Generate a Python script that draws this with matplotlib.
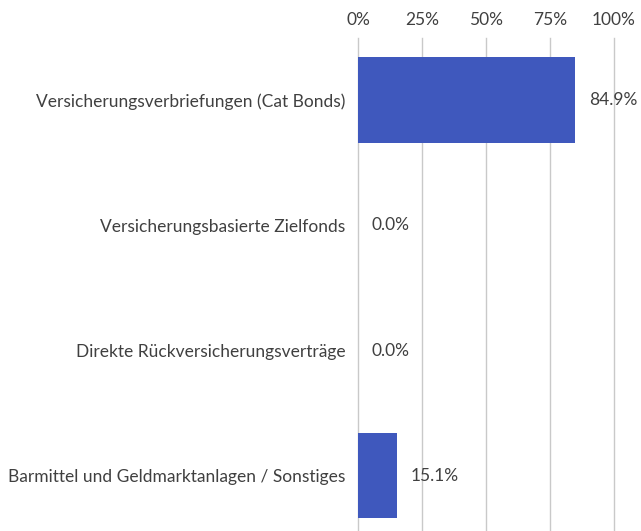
import matplotlib.pyplot as plt
from matplotlib.ticker import FuncFormatter

categories = [
    "Versicherungsverbriefungen (Cat Bonds)",
    "Versicherungsbasierte Zielfonds",
    "Direkte Rückversicherungsverträge",
    "Barmittel und Geldmarktanlagen / Sonstiges",
]
values = [84.9, 0.0, 0.0, 15.1]
xticks = [0, 25, 50, 75, 100]

text_color = "#404040"
bar_color = "#3F58BD"
grid_color = "#C9C9C9"

plt.rcParams['font.family'] = ['Lato', 'DejaVu Sans']

fig = plt.figure(figsize=(6.41, 5.31), dpi=100)
ax = fig.add_axes([358 / 641, 0, 256 / 641, 493 / 531])

pos = list(range(len(categories)))
ax.barh(pos, values, height=0.68, color=bar_color, zorder=2)

for p, v in zip(pos, values):
    ax.annotate(f"{v:.1f}%", (v, p), xytext=(10, 0), textcoords="offset points",
                va="center", ha="left", fontsize=12.5, color=text_color,
                annotation_clip=False)

ax.set_xlim(0, 100)
ax.set_ylim(3.44, -0.495)
ax.set_xticks(xticks)
ax.xaxis.set_major_formatter(FuncFormatter(lambda x, _: f"{x:.0f}%"))
ax.xaxis.tick_top()
ax.set_yticks(pos)
ax.set_yticklabels(categories)
ax.tick_params(axis="both", length=0, labelsize=12.5, labelcolor=text_color)
ax.tick_params(axis="x", pad=7)
ax.tick_params(axis="y", pad=9)
ax.grid(axis="x", color=grid_color, linewidth=1, zorder=0, clip_on=False)
for s in ax.spines.values():
    s.set_visible(False)

fig.savefig("out.png", dpi=100)
